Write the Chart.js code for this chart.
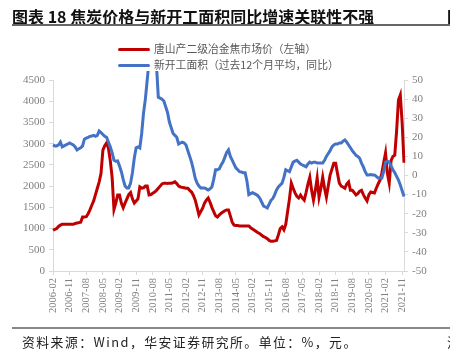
<!DOCTYPE html>
<html>
<head>
<meta charset="utf-8">
<script src="https://cdn.jsdelivr.net/npm/chart.js@4"></script>
<style>
  html, body { margin: 0; padding: 0; background: #fff; }
  body { width: 450px; height: 362px; position: relative; overflow: hidden; }
  #chart { position: absolute; left: 0; top: 0; }
  .title { position: absolute; left: 12px; top: 4px; font: bold 16px "Noto Sans CJK SC", sans-serif; letter-spacing: 0px; color: #111; white-space: nowrap; }
  .rule { position: absolute; left: 12px; right: 0; background: #666; }
  .legend { position: absolute; left: 114px; top: 40px; width: 230px; height: 31px; background: #fff; }
  .legend div { position: absolute; left: 4px; height: 14px; font: 10.8px "Noto Sans CJK SC", sans-serif; color: #595959; white-space: nowrap; line-height: 14px; }
  .legend span { display: inline-block; width: 32px; height: 3px; border-radius: 2px; vertical-align: middle; margin-right: 4px; position: relative; top: -1px; }
  .source { position: absolute; left: 22px; top: 332px; font: 12.8px "Noto Sans CJK SC", sans-serif; letter-spacing: 1.5px; color: #222; white-space: nowrap; }
</style>
</head>
<body>
<canvas id="chart" width="450" height="362"></canvas>
<div class="title">图表 18 焦炭价格与新开工面积同比增速关联性不强</div>
<div class="title" style="left:447px">图</div>
<div class="rule" style="top:24px;height:1.5px"></div>
<div class="legend">
  <div style="top:1px"><span style="background:#C00000"></span>唐山产二级冶金焦市场价（左轴）</div>
  <div style="top:17px"><span style="background:#4472C4"></span>新开工面积（过去12个月平均，同比）</div>
</div>
<div class="rule" style="top:327px;height:2px;background:#888"></div>
<div class="source">资料来源：Wind，华安证券研究所。单位：%，元。</div>
<div class="source" style="left:447px">注</div>
<script>
// 月度数据：2006-02 至 2021-12
const firstYear = 2006, firstMonth = 2, monthCount = 191;
const months = [];
for (let i = 0; i < monthCount; i++) {
    const m = firstMonth - 1 + i;
    months.push((firstYear + Math.floor(m / 12)) + '-' + String(m % 12 + 1).padStart(2, '0'));
}

// 唐山产二级冶金焦市场价（元/吨，左轴）
const cokePrice = [
    960, 980, 1000, 1050, 1080, 1100, 1100, 1100, 1100, 1100, 1100, 1100,
    1120, 1130, 1140, 1150, 1270, 1270, 1280, 1350, 1440, 1550, 1650, 1800,
    1950, 2100, 2300, 2850, 2950, 3015, 2900, 2600, 2210, 1450, 1600, 1790,
    1790, 1600, 1490, 1600, 1700, 1800, 1850, 1700, 1600, 1650, 1700, 1980,
    1950, 1960, 2000, 2000, 1790, 1800, 1830, 1860, 1900, 1950, 2000, 2050,
    2070, 2070, 2060, 2070, 2070, 2080, 2100, 2060, 2000, 1980, 1970, 1960,
    1950, 1950, 1900, 1860, 1780, 1670, 1500, 1320, 1400, 1480, 1600, 1670,
    1720, 1620, 1500, 1400, 1300, 1270, 1320, 1360, 1390, 1420, 1440, 1440,
    1300, 1150, 1080, 1070, 1070, 1060, 1060, 1060, 1060, 1060, 1060, 1020,
    990, 960, 930, 900, 880, 840, 810, 790, 760, 720, 700, 700,
    710, 720, 850, 1000, 1040, 970, 1100, 1400, 1700, 2070, 1950, 1840,
    1760, 1720, 1790, 1720, 1670, 1850, 2050, 2210, 1900, 1670, 1900, 2190,
    1740, 1950, 2210, 1950, 1740, 2000, 2260, 2400, 2540, 2540, 2300, 2070,
    2000, 1980, 1950, 2050, 2100, 1900, 1900, 1850, 1790, 1820, 1880, 1900,
    1800, 1720, 1650, 1800, 1860, 1850, 1840, 1950, 2050, 2140, 2300, 2550,
    2780, 2300, 2070, 2600, 2700, 2730, 3300, 4030, 4150, 3490, 2550
];

// 新开工面积（过去12个月平均，同比 %，右轴）
const newStartsYoY = [
    16, 15.5, 15.5, 16, 17.5, 15, 15.5, 16, 16.5, 17, 16.5, 16,
    15, 13.4, 14, 14.5, 15.5, 19, 19.6, 20, 20.5, 20.7, 21, 20.5,
    21, 23.3, 22.5, 21.5, 20.5, 20, 17.5, 15, 12, 8, 7.5, 7.6,
    5, 2, -2, -5.5, -6.5, -6.5, -4, 1.5, 9, 14.5, 15, 14.4,
    22, 32.7, 40, 50, 60, 64, 65, 64, 58, 41, 40.5, 40,
    39, 36, 33, 28, 25, 22, 21, 20, 16.5, 17, 17.5, 17,
    16, 13, 10, 7, 3, -1.5, -4, -5.5, -6.5, -6.5, -6.5, -7,
    -7.6, -7, -6, -2, 3, 3, 3.5, 5.5, 7, 9.5, 12, 13.4,
    10, 8, 6, 4, 3, 2, 1.8, 1.5, 1.5, -3, -10, -9.5,
    -9, -9.5, -10, -10.7, -12, -14, -16, -16.5, -17, -15, -13, -12,
    -10, -7.6, -6, -5, -4, -1, 3, 2.5, 2, 4.5, 7, 7.5,
    8, 7, 6, 5.5, 5, 4.5, 6, 7, 6.5, 7, 7, 6.5,
    6.5, 6.5, 6.5, 8, 10, 11.5, 13, 15, 16, 16.5, 16.5, 17,
    17, 18, 18.6, 17.5, 16, 14.5, 13, 11.8, 10.5, 10, 9, 6.5,
    4.5, 2, 0.3, 0.3, 0.5, 0.3, 0.3, -0.5, -1.3, -1.3, -1.3, 2,
    7, 7.5, 7, 5, 3, 1.5, -0.5, -2.4, -5, -8, -11
];

const labelEvery = 9;
const axisColor = '#d9d9d9';
const tickFont = { family: '"Liberation Serif", "Times New Roman", serif', size: 11 };

const ctx = document.getElementById('chart').getContext('2d');
new Chart(ctx, {
    type: 'line',
    data: {
        labels: months,
        datasets: [{
            label: '唐山产二级冶金焦市场价（左轴）',
            data: cokePrice,
            borderColor: '#C00000',
            backgroundColor: '#C00000',
            borderWidth: 3,
            pointRadius: 0,
            yAxisID: 'y',
            order: 2
        }, {
            label: '新开工面积（过去12个月平均，同比）',
            data: newStartsYoY,
            borderColor: '#4472C4',
            backgroundColor: '#4472C4',
            borderWidth: 3,
            pointRadius: 0,
            yAxisID: 'y1',
            clip: false,
            order: 1
        }]
    },
    options: {
        responsive: false,
        animation: false,
        devicePixelRatio: 1,
        layout: { padding: { left: 0, right: 0, top: 80, bottom: 41 } },
        plugins: { legend: { display: false }, tooltip: { enabled: false } },
        scales: {
            x: {
                offset: false,
                afterFit: s => { s.height = 50; },
                grid: { drawOnChartArea: false, color: axisColor, tickLength: 4 },
                border: { color: axisColor },
                ticks: {
                    autoSkip: false, minRotation: 90, maxRotation: 90, padding: 3,
                    color: '#7f7f7f', font: { family: tickFont.family, size: 10.5 },
                    callback: function(v, i) { return i % labelEvery === 0 ? this.getLabelForValue(v) : null; }
                }
            },
            y: {
                position: 'left',
                min: 0, max: 4500,
                afterFit: s => { s.width = 53; },
                grid: { drawOnChartArea: false, color: axisColor, tickLength: 4 },
                border: { color: axisColor },
                ticks: { stepSize: 500, padding: 4, color: '#7f7f7f', font: tickFont, callback: v => String(v) }
            },
            y1: {
                position: 'right',
                min: -50, max: 50,
                afterFit: s => { s.width = 46; },
                grid: { drawOnChartArea: false, color: axisColor, tickLength: 4 },
                border: { color: axisColor },
                ticks: { stepSize: 10, padding: 4, color: '#7f7f7f', font: tickFont, callback: v => String(v) }
            }
        }
    }
});
</script>
</body>
</html>
